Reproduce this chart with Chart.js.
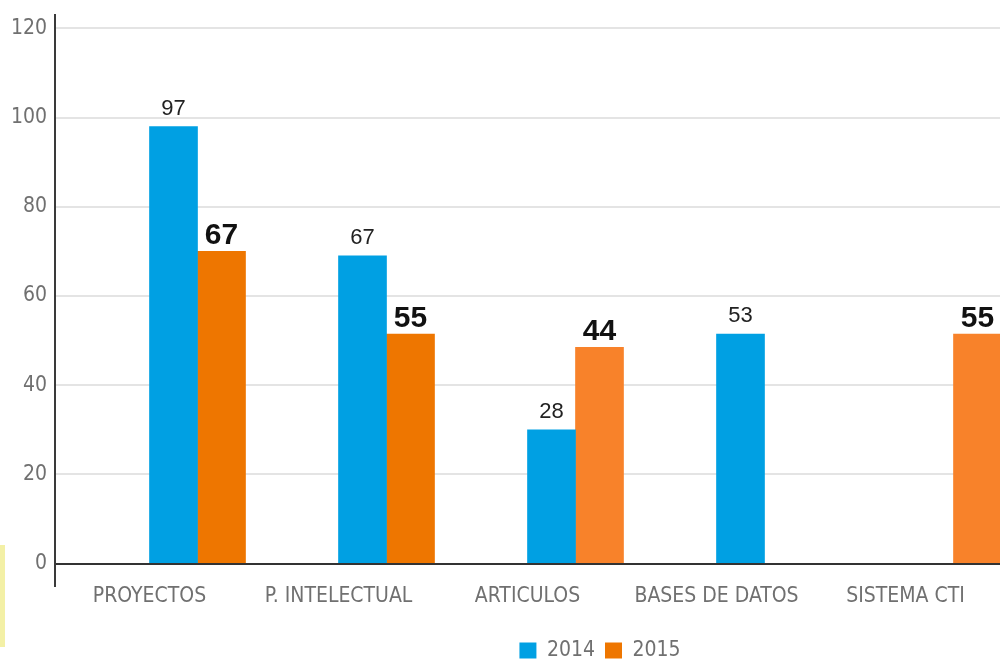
<!DOCTYPE html>
<html>
<head>
<meta charset="utf-8">
<script src="https://cdn.jsdelivr.net/npm/chart.js@4.4.1/dist/chart.umd.min.js"></script>
<style>
  html, body { margin: 0; padding: 0; background: #ffffff; overflow: hidden; }
  #wrap { position: relative; width: 1002px; height: 660px; }
  #strip { position: absolute; left: 0; top: 545px; width: 5px; height: 102px; background: #f3f0a6; }
</style>
</head>
<body>
<div id="wrap">
  <canvas id="c" width="1002" height="660"></canvas>
  <div id="strip"></div>
</div>
<script>
// ---- data ----
const categories = ['PROYECTOS', 'P. INTELECTUAL', 'ARTICULOS', 'BASES DE DATOS', 'SISTEMA CTI'];
const seriesNames = ['2014', '2015'];
const values2014 = [98, 69, 30, 51.5, null];
const values2015 = [70, 51.5, 48.5, null, 51.5];
const printed2014 = ['97', '67', '28', '53', ''];
const printed2015 = ['67', '55', '44', '', '55'];
const yTicks = [0, 20, 40, 60, 80, 100, 120];

// ---- styles ----
const blue = '#00A0E3';
const orangeDark = '#EE7600';
const orangeLight = '#F8822A';
const colors2015 = [orangeDark, orangeDark, orangeLight, orangeLight, orangeLight];
const FONT = "'Liberation Sans Narrow', 'DejaVu Sans Condensed', 'Liberation Sans', sans-serif";

const valueLabels = {
  id: 'valueLabels',
  afterDatasetsDraw(chart) {
    const ctx = chart.ctx;
    ctx.save();
    ctx.textAlign = 'center';
    ctx.textBaseline = 'alphabetic';
    [[2, printed2014, "22px 'Liberation Sans', sans-serif", '#222222', 12],
     [3, printed2015, "bold 30px 'Liberation Sans', sans-serif", '#111111', 7]].forEach(([di, texts, font, color, gap]) => {
      const meta = chart.getDatasetMeta(di);
      meta.data.forEach((bar, i) => {
        if (!texts[i]) return;
        ctx.font = font;
        ctx.fillStyle = color;
        ctx.fillText(texts[i], bar.x, bar.y - gap);
      });
    });
    ctx.restore();
  }
};

const legendShift = {
  id: 'legendShift',
  afterLayout(chart) {
    const l = chart.legend;
    if (l) { l.left += 100; l.right += 100; l.top += 11; l.bottom += 11; }
  }
};

new Chart(document.getElementById('c'), {
  type: 'bar',
  data: {
    labels: categories,
    datasets: [
      { label: '', data: [] },
      { label: '', data: [] },
      { label: seriesNames[0], data: values2014, backgroundColor: blue },
      { label: seriesNames[1], data: values2015,
        backgroundColor: (c) => c.type === 'data' ? colors2015[c.dataIndex] : '#F58220' }
    ]
  },
  options: {
    responsive: false,
    devicePixelRatio: 1,
    animation: false,
    layout: { padding: { top: 15, right: 2, left: 0, bottom: 0 } },
    datasets: { bar: { barThickness: 48, borderWidth: 0 } },
    scales: {
      x: {
        grid: { display: false, drawTicks: false },
        border: { display: false },
        ticks: { color: '#707070', font: { family: FONT, size: 21 }, padding: -2, maxRotation: 0, autoSkip: false },
        afterFit(s) { s.height = 33; s.paddingLeft = 0; s.paddingRight = 0; }
      },
      y: {
        min: -5,
        max: 123,
        bounds: 'data',
        grid: {
          drawTicks: false,
          lineWidth: 2,
          color: (c) => c.tick && c.tick.value === 0 ? '#333333' : '#e4e4e4'
        },
        border: { display: true, color: '#3a3a3a', width: 2 },
        ticks: {
          color: '#707070',
          font: { family: FONT, size: 21 },
          padding: 8
        },
        afterBuildTicks(s) { s.ticks = yTicks.map(v => ({ value: v })); },
        afterFit(s) { s.width = 55; s.paddingTop = 0; s.paddingBottom = 0; }
      }
    },
    plugins: {
      legend: {
        position: 'bottom',
        labels: {
          filter: (item) => item.text !== '',
          boxWidth: 17,
          boxHeight: 16,
          padding: 10,
          color: '#707070',
          font: { family: FONT, size: 21 }
        }
      },
      tooltip: { enabled: false }
    }
  },
  plugins: [valueLabels, legendShift]
});
</script>
</body>
</html>
